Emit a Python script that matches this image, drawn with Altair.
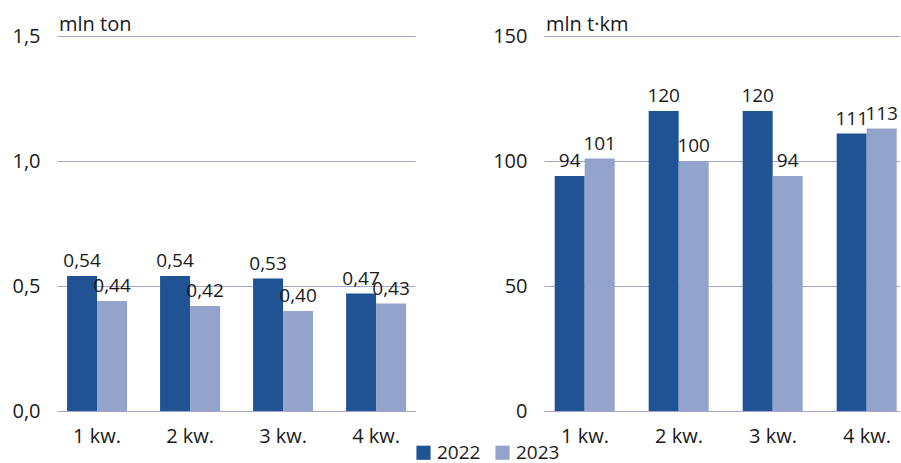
import altair as alt
import pandas as pd

quarters = ["1 kw.", "2 kw.", "3 kw.", "4 kw."]
years = ["2022", "2023"]
ton_2022 = [0.54, 0.54, 0.53, 0.47]
ton_2023 = [0.44, 0.42, 0.40, 0.43]
tkm_2022 = [94, 120, 120, 111]
tkm_2023 = [101, 100, 94, 113]

FONT = "Open Sans"
FS = 20
TXT = "#1a1a1a"
colors = ["#1f5394", "#94a3cb"]


def make_df(a, b, dec):
    rows = []
    for q, v in zip(quarters, a):
        rows.append({"q": q, "year": "2022", "v": v})
    for q, v in zip(quarters, b):
        rows.append({"q": q, "year": "2023", "v": v})
    df = pd.DataFrame(rows)
    if dec:
        df["lab"] = df["v"].map(lambda x: f"{x:.2f}".replace(".", ","))
    else:
        df["lab"] = df["v"].map(lambda x: f"{x:.0f}")
    return df


def panel(df, domain, ticks, label_expr, unit, width, p_outer, align):
    base = alt.Chart(df).encode(
        x=alt.X("q:N", sort=quarters, title=None,
                scale=alt.Scale(paddingInner=0.355, paddingOuter=p_outer, align=align),
                axis=alt.Axis(labelAngle=0, domain=False, ticks=False,
                              labelPadding=15, labelFontSize=FS, labelFont=FONT,
                              labelColor=TXT)),
        xOffset=alt.XOffset("year:N", sort=years),
    )
    bars = base.mark_bar().encode(
        y=alt.Y("v:Q", title=None,
                scale=alt.Scale(domain=domain, nice=False),
                axis=alt.Axis(values=ticks, labelExpr=label_expr, domain=False,
                              ticks=False, labelPadding=17, labelFontSize=FS,
                              labelFont=FONT, labelColor=TXT,
                              grid=True, gridColor="#a4a4cc", gridWidth=1)),
        color=alt.Color("year:N", sort=years,
                        scale=alt.Scale(domain=years, range=colors),
                        legend=alt.Legend(title=None, orient="none", direction="horizontal",
                                          legendX=357, legendY=407,
                                          symbolType="square", symbolSize=200,
                                          symbolStrokeWidth=0,
                                          labelFontSize=19, labelFont=FONT,
                                          labelColor=TXT, columnPadding=12,
                                          labelOffset=4)),
    )
    text = base.mark_text(baseline="bottom", dy=-5, fontSize=19, font=FONT,
                          color=TXT).encode(
        y=alt.Y("v:Q"), text="lab:N")
    unit_txt = alt.Chart(pd.DataFrame({"u": [unit]})).mark_text(
        align="left", baseline="alphabetic", fontSize=FS, font=FONT, color=TXT
    ).encode(text="u:N", x=alt.value(2), y=alt.value(-5))
    return alt.layer(bars, text, unit_txt).properties(width=width, height=375)


left = panel(make_df(ton_2022, ton_2023, True), [0, 1.5], [0, 0.5, 1.0, 1.5],
             "replace(format(datum.value, '.1f'), '.', ',')", "mln ton", 358,
             0.102, 0.53)
right = panel(make_df(tkm_2022, tkm_2023, False), [0, 150], [0, 50, 100, 150],
              "format(datum.value, 'd')", "mln t·km", 356, 0.071, 0.8)

chart = alt.hconcat(left, right, spacing=129, bounds="flush").properties(
    padding={"left": 11, "top": 15, "right": 0, "bottom": 0},
).configure(background="white", view=alt.ViewConfig(stroke=None))

chart.save("out.html", embed_options={"renderer": "svg", "actions": False})
